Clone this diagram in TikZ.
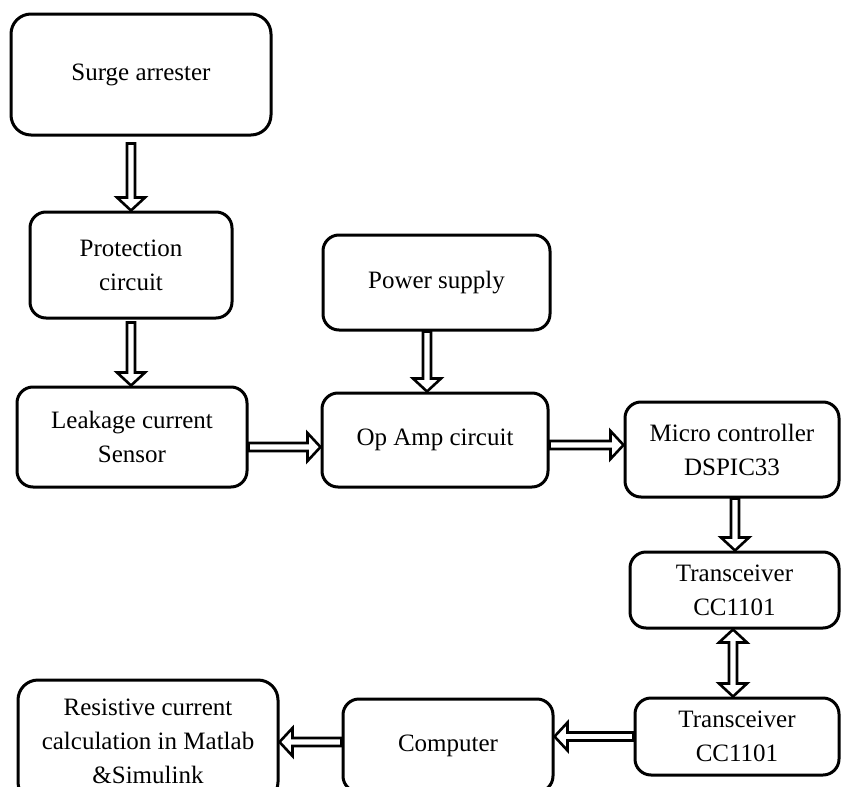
\documentclass[tikz,border=0pt]{standalone}
\usepackage{fontspec}
\setmainfont{Liberation Serif}
\usetikzlibrary{calc}
\tikzset{
  box/.style={draw, line width=3pt, rounded corners=16pt, align=center,
    font=\fontsize{25}{34}\selectfont, inner sep=0pt, fill=white},
  blk/.style={draw, line width=2.6pt, fill=white, line join=miter}
}
\newcommand{\blkarrow}[2]{%
  \coordinate (qq) at ($(#2)!13pt!(#1)$);
  \draw[blk] ($(#1)!4pt!90:(#2)$) -- ($(qq)!4pt!90:(#2)$) -- ($(qq)!14pt!90:(#2)$)
    -- (#2) -- ($(qq)!14pt!-90:(#2)$) -- ($(qq)!4pt!-90:(#2)$)
    -- ($(#1)!4pt!-90:(#2)$) -- cycle;}
\newcommand{\dblkarrow}[2]{%
  \coordinate (qa) at ($(#1)!13pt!(#2)$);
  \coordinate (qb) at ($(#2)!13pt!(#1)$);
  \draw[blk] (#1) -- ($(qa)!14pt!90:(#2)$) -- ($(qa)!4pt!90:(#2)$)
    -- ($(qb)!4pt!90:(#2)$) -- ($(qb)!14pt!90:(#2)$) -- (#2)
    -- ($(qb)!14pt!-90:(#2)$) -- ($(qb)!4pt!-90:(#2)$)
    -- ($(qa)!4pt!-90:(#2)$) -- ($(qa)!14pt!-90:(#2)$) -- cycle;}
\begin{document}
\begin{tikzpicture}[x=1pt,y=-1pt]
\useasboundingbox[fill=white] (0,0) rectangle (841,787);
\clip (0,0) rectangle (841,787);
% boxes
\node[box, minimum width=260pt, minimum height=121pt, rounded corners=20pt] (surge) at (141,74.5) {Surge arrester};
\node[box, minimum width=202pt, minimum height=106pt] (prot) at (131,265) {Protection\\circuit};
\node[box, minimum width=230pt, minimum height=100pt] (leak) at (132,437) {Leakage current\\Sensor};
\node[box, minimum width=227pt, minimum height=95pt] (power) at (436.5,282.5) {Power supply};
\node[box, minimum width=226pt, minimum height=94pt] (opamp) at (435,440) {Op Amp circuit};
\node[box, minimum width=214pt, minimum height=95pt] (micro) at (732,449.5) {Micro controller\\DSPIC33};
\node[box, minimum width=209pt, minimum height=76pt] (tr1) at (734.5,590) {Transceiver\\CC1101};
\node[box, minimum width=204pt, minimum height=77pt] (tr2) at (737,736.5) {Transceiver\\CC1101};
\node[box, minimum width=210pt, minimum height=93pt] (comp) at (448,745.5) {Computer};
\node[box, minimum width=260pt, minimum height=122pt, rounded corners=20pt] (res) at (148,741) {Resistive current\\calculation in Matlab\\\&Simulink};
% arrow end points
\coordinate (a1s) at ([yshift=-7pt]surge.south -| prot.north);
\coordinate (a1e) at (prot.north);
\coordinate (a2s) at ([yshift=-3pt]prot.south);
\coordinate (a2e) at (a2s |- leak.north);
\coordinate (a3s) at ([xshift=-9.5pt]power.south);
\coordinate (a3e) at (a3s |- opamp.north);
\coordinate (a4s) at ([yshift=-10pt]leak.east);
\coordinate (a4e) at (a4s -| opamp.west);
\coordinate (a5s) at ([yshift=-5pt]opamp.east);
\coordinate (a5e) at (a5s -| micro.west);
\coordinate (a6s) at ([xshift=3pt]micro.south);
\coordinate (a6e) at (a6s |- tr1.north);
\coordinate (a7s) at ([xshift=-1.5pt]tr1.south);
\coordinate (a7e) at (a7s |- tr2.north);
\coordinate (a8s) at (tr2.west);
\coordinate (a8e) at (a8s -| comp.east);
\coordinate (a9s) at ([yshift=3.5pt]comp.west);
\coordinate (a9e) at (a9s -| res.east);
% arrows
\blkarrow{a1s}{a1e}
\blkarrow{a2s}{a2e}
\blkarrow{a3s}{a3e}
\blkarrow{a4s}{a4e}
\blkarrow{a5s}{a5e}
\blkarrow{a6s}{a6e}
\dblkarrow{a7s}{a7e}
\blkarrow{a8s}{a8e}
\blkarrow{a9s}{a9e}
\end{tikzpicture}
\end{document}
